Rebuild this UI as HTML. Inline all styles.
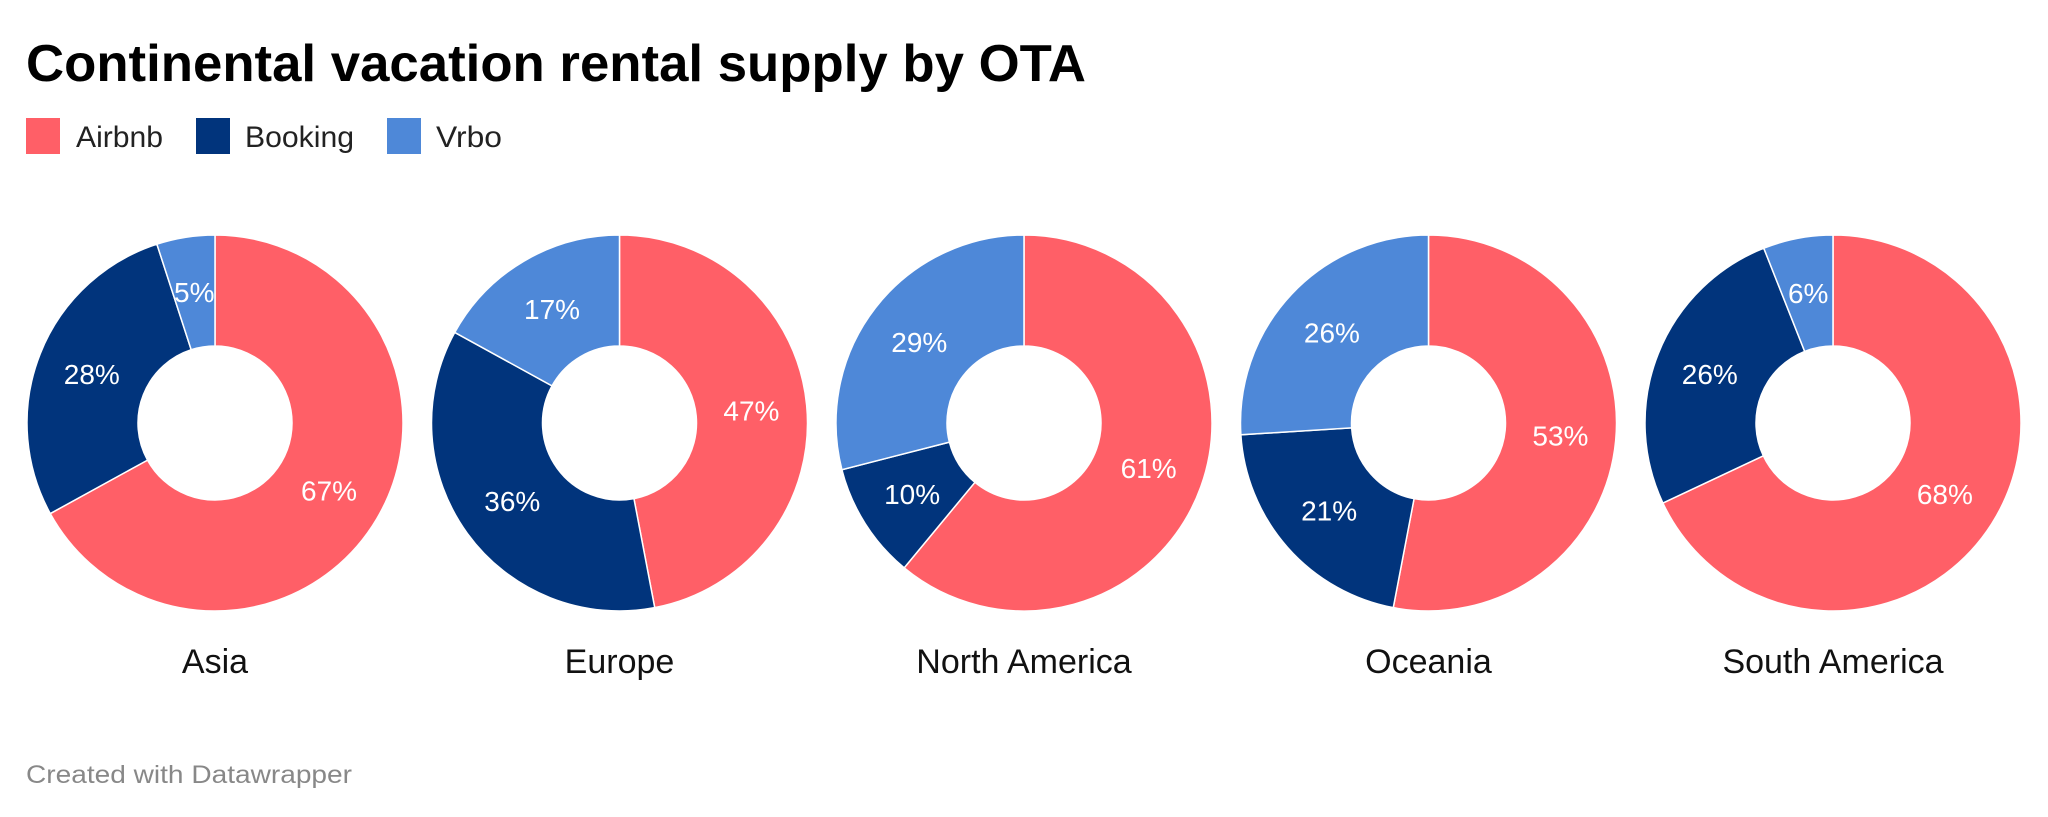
<!DOCTYPE html>
<html><head><meta charset="utf-8"><style>
html,body{margin:0;padding:0;background:#fff;}
svg{display:block;font-family:"Liberation Sans",sans-serif;}
</style></head><body>
<svg id="chart" width="2048" height="817" viewBox="0 0 2048 817">
<text x="26" y="81" font-size="52" font-weight="bold" fill="#000" textLength="1060" lengthAdjust="spacingAndGlyphs">Continental vacation rental supply by OTA</text>
<g>
<rect x="26" y="118" width="34" height="36" fill="#ff5f67"/>
<text x="76" y="147" font-size="30" fill="#222" textLength="87" lengthAdjust="spacingAndGlyphs">Airbnb</text>
<rect x="196" y="118" width="34" height="36" fill="#01347c"/>
<text x="245" y="147" font-size="30" fill="#222" textLength="109" lengthAdjust="spacingAndGlyphs">Booking</text>
<rect x="387" y="118" width="34" height="36" fill="#4e88d8"/>
<text x="436" y="147" font-size="30" fill="#222" textLength="66" lengthAdjust="spacingAndGlyphs">Vrbo</text>
</g>
<g id="donuts"></g>
<text x="26" y="783" font-size="25" fill="#888" textLength="326" lengthAdjust="spacingAndGlyphs">Created with Datawrapper</text>
</svg>
<script>
const regions = ["Asia","Europe","North America","Oceania","South America"];
const airbnb = [67,47,61,53,68];
const booking = [28,36,10,21,26];
const vrbo = [5,17,29,26,6];
const seriesNames = ["airbnb","booking","vrbo"];
const colors = ["#ff5f67","#01347c","#4e88d8"];
const NS="http://www.w3.org/2000/svg";
const g=document.getElementById('donuts');
const R=188, r=77, cy=423, x0=215, dx=404.5;
function pt(cx,rad,frac){const a=frac*2*Math.PI;return [cx+rad*Math.sin(a),cy-rad*Math.cos(a)];}
regions.forEach((reg,i)=>{
  const cx=x0+i*dx;
  const vals=[airbnb[i],booking[i],vrbo[i]];
  const tot=vals.reduce((a,b)=>a+b,0);
  let acc=0;
  vals.forEach((v,k)=>{
    const f0=acc/tot, f1=(acc+v)/tot; acc+=v;
    const large=(f1-f0)>0.5?1:0;
    const [ax,ay]=pt(cx,R,f0),[bx,by]=pt(cx,R,f1),[cx2,cy2]=pt(cx,r,f1),[dx2,dy2]=pt(cx,r,f0);
    const p=document.createElementNS(NS,'path');
    p.setAttribute('d',`M${ax},${ay}A${R},${R} 0 ${large} 1 ${bx},${by}L${cx2},${cy2}A${r},${r} 0 ${large} 0 ${dx2},${dy2}Z`);
    p.setAttribute('fill',colors[k]);p.setAttribute('stroke','#fff');p.setAttribute('stroke-width','1.5');
    
    
    g.appendChild(p);
    const [lx,ly]=pt(cx,(R+r)/2,(f0+f1)/2);
    const t=document.createElementNS(NS,'text');
    t.setAttribute('x',lx);t.setAttribute('y',ly+10);t.setAttribute('text-anchor','middle');
    t.setAttribute('font-size','28');t.setAttribute('fill','#fff');
    t.textContent=v+'%';
    
    
    g.appendChild(t);
  });
  const lab=document.createElementNS(NS,'text');
  lab.setAttribute('x',cx);lab.setAttribute('y',673);lab.setAttribute('text-anchor','middle');
  lab.setAttribute('font-size','34');lab.setAttribute('fill','#111');
  lab.textContent=reg;
  
  
  g.appendChild(lab);
});
</script>
</body></html>
